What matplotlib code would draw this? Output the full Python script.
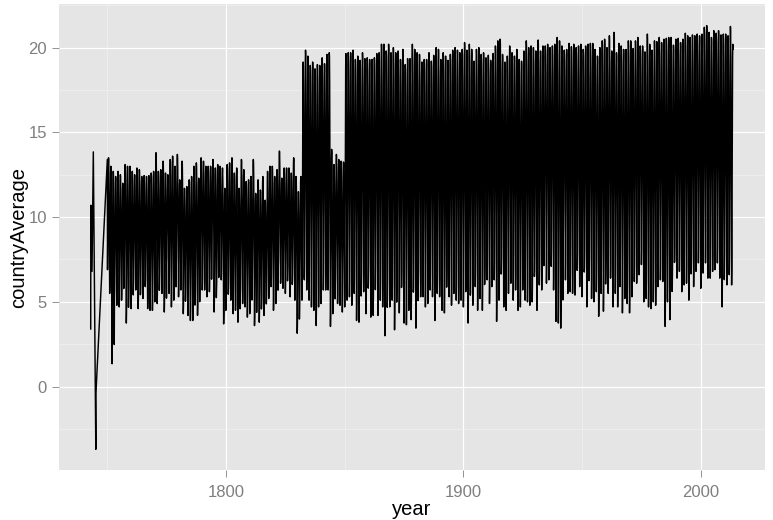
import matplotlib
matplotlib.use("Agg")
import matplotlib.pyplot as plt
import numpy as np

# first scattered readings before the regular record starts
early_year = [1743.0, 1743.05, 1743.55, 1744.1, 1745.15, 1745.2, 1750.0]
early_value = [3.4, 10.7, 6.8, 13.85, -3.7, -0.4, 13.4]

# regular monthly record: 1750 (from Feb) to 2013 (to Aug)
first_year = 1750
last_year = 2013
start_month = 1
end_month = 7

# summer peak of each year, 1750..2013
summer_high = [
    13.5, 13.0, 12.7, 12.4, 12.7, 12.5, 12.0, 13.1, 13.0, 13.0,
    12.7, 12.5, 12.9, 12.8, 12.4, 12.45, 12.4, 12.45, 12.6, 12.7,
    13.8, 12.7, 12.8, 13.3, 12.6, 12.5, 13.4, 13.6, 13.0, 13.7,
    12.2, 13.3, 11.7, 11.8, 12.2, 12.4, 13.0, 13.2, 12.3, 13.5,
    13.3, 13.0, 13.0, 13.0, 13.4, 12.9, 13.1, 13.0, 12.9, 11.7,
    13.1, 13.2, 13.5, 12.6, 12.9, 11.7, 13.4, 12.8, 12.1, 12.2,
    12.4, 13.4, 11.4, 12.2, 11.6, 12.4, 11.0, 12.7, 13.0, 13.0,
    12.4, 12.8, 13.9, 12.3, 12.9, 12.9, 12.9, 12.6, 13.5, 12.4,
    11.5, 12.4, 19.15, 19.85, 19.5, 18.95, 19.15, 18.75, 19.0, 18.95,
    19.4, 19.05, 19.6, 19.7, 14.0, 13.1, 13.7, 13.4, 13.3, 13.25,
    19.65, 19.7, 19.7, 19.85, 19.3, 19.5, 19.25, 19.7, 19.35, 19.4,
    19.3, 19.3, 19.4, 19.65, 19.7, 20.2, 20.2, 19.8, 20.2, 19.7,
    20.0, 19.7, 19.8, 19.3, 19.9, 19.0, 19.35, 19.35, 20.2, 19.9,
    19.7, 19.6, 19.15, 19.3, 19.3, 19.7, 19.2, 19.55, 20.0, 19.9,
    19.3, 19.7, 19.5, 19.25, 19.6, 19.85, 20.0, 19.85, 19.7, 19.9,
    20.3, 19.85, 20.2, 19.9, 19.2, 19.9, 20.0, 19.6, 19.7, 19.4,
    19.55, 19.25, 19.65, 20.1, 20.4, 20.5, 19.6, 19.15, 19.5, 20.1,
    19.7, 19.5, 19.9, 19.3, 19.2, 19.8, 20.4, 20.0, 20.1, 20.0,
    19.8, 20.45, 19.8, 20.1, 20.1, 20.2, 20.0, 20.1, 20.2, 20.6,
    20.4, 20.1, 19.85, 19.9, 20.25, 20.05, 20.2, 20.0, 20.1, 20.2,
    19.9, 20.1, 20.2, 20.25, 20.25, 19.9, 19.5, 20.0, 20.4, 20.5,
    20.0, 20.7, 19.8, 20.9, 19.7, 20.25, 20.1, 19.9, 19.9, 20.4,
    20.4, 19.95, 20.4, 20.6, 20.1, 20.1, 19.75, 20.8, 20.2, 19.85,
    20.4, 20.35, 20.6, 20.3, 20.5, 20.55, 20.6, 20.6, 20.15, 20.5,
    20.55, 20.3, 20.5, 20.85, 20.7, 20.6, 20.75, 20.7, 20.8, 20.7,
    20.8, 21.2, 21.3, 20.9, 20.6, 21.0, 20.85, 21.0, 20.75, 20.8,
    20.8, 20.7, 21.25, 20.2,
]

# winter minimum of each year, 1750..2013
winter_low = [
    6.4, 5.5, 1.35, 5.1, 4.8, 4.7, 5.1, 5.9, 3.75, 5.5,
    4.6, 5.9, 5.7, 4.6, 5.5, 5.2, 5.9, 4.6, 4.5, 4.5,
    5.0, 4.9, 6.3, 5.5, 4.4, 7.2, 5.5, 4.7, 5.1, 7.0,
    5.3, 5.7, 4.3, 5.5, 4.2, 3.9, 3.9, 5.1, 4.2, 6.0,
    5.7, 5.7, 5.3, 5.6, 7.3, 4.4, 5.7, 6.5, 6.3, 3.7,
    4.6, 5.5, 5.1, 4.3, 4.5, 3.8, 5.3, 4.9, 4.7, 4.1,
    4.3, 5.9, 3.6, 5.3, 3.8, 4.9, 4.2, 4.9, 5.2, 5.9,
    4.5, 4.9, 7.0, 6.1, 5.8, 5.5, 6.7, 5.3, 6.2, 5.1,
    3.15, 4.7, 5.1, 6.3, 5.7, 5.1, 4.7, 4.5, 3.6, 4.7,
    4.9, 5.7, 5.7, 5.7, 3.55, 4.3, 5.9, 4.9, 4.8, 4.4,
    4.7, 5.1, 5.3, 4.8, 5.5, 3.9, 3.8, 5.7, 5.6, 4.3,
    6.3, 4.1, 4.2, 6.4, 4.2, 5.1, 4.7, 3.0, 5.2, 4.7,
    5.1, 3.35, 6.1, 4.35, 5.9, 3.75, 3.65, 4.5, 3.95, 5.8,
    3.45, 5.9, 5.3, 5.3, 4.7, 4.9, 5.7, 5.3, 3.9, 5.5,
    5.3, 4.5, 4.35, 5.9, 5.3, 4.8, 5.5, 5.1, 4.9, 5.1,
    4.7, 5.6, 3.75, 5.5, 4.8, 5.9, 4.5, 5.2, 4.5, 6.1,
    6.3, 4.9, 5.9, 6.3, 3.85, 5.1, 6.7, 4.7, 4.5, 5.5,
    6.1, 5.1, 5.7, 4.5, 4.7, 5.7, 5.1, 5.0, 4.8, 5.0,
    6.8, 4.5, 6.0, 5.7, 7.4, 6.1, 6.3, 7.1, 5.7, 3.85,
    3.75, 3.45, 6.7, 6.3, 5.5, 5.6, 5.5, 5.4, 7.0, 5.9,
    5.3, 7.0, 4.7, 6.6, 5.2, 5.0, 5.6, 4.15, 5.5, 4.45,
    6.6, 5.5, 6.4, 4.7, 5.5, 4.7, 5.9, 4.35, 5.2, 4.9,
    4.35, 5.3, 6.2, 6.1, 6.6, 7.2, 5.0, 5.2, 4.7, 4.6,
    5.0, 4.8, 5.9, 6.3, 6.2, 3.55, 5.0, 3.95, 5.9, 7.4,
    6.4, 6.8, 5.6, 6.0, 6.1, 5.1, 6.8, 5.9, 6.8, 7.3,
    5.8, 6.7, 7.3, 6.4, 6.4, 6.8, 6.9, 7.3, 6.4, 4.7,
    7.0, 6.0, 6.6, 6.0,
]

# shape of the year between the winter minimum (0) and the summer peak (1), Jan..Dec
month_shape = [0.0, 0.07, 0.3, 0.57, 0.8, 0.95, 1.0, 0.98, 0.87, 0.64, 0.35, 0.1]

n_years = last_year - first_year + 1
assert len(summer_high) == n_years, len(summer_high)
assert len(winter_low) == n_years, len(winter_low)

# build the x (fractional year) and y lists of the line
line_x = list(early_year)
line_y = list(early_value)
for i in range(n_years):
    yr = first_year + i
    for m in range(12):
        if yr == first_year and m < start_month:
            continue
        if yr == last_year and m > end_month:
            break
        line_x.append(yr + m / 12)
        line_y.append(winter_low[i] + (summer_high[i] - winter_low[i]) * month_shape[m])

plt.rcParams["font.family"] = ["Liberation Sans", "DejaVu Sans"]

fig = plt.figure(figsize=(7.73, 5.2), dpi=100)
# panel placed like the ggplot one (pixels 58.6..765 by 4.4..470.5)
ax = fig.add_axes([0.0758, 0.0952, 0.914, 0.8963])

# ggplot-like grey panel
ax.set_facecolor("#E5E5E5")
for s in ax.spines.values():
    s.set_visible(False)

ax.plot(line_x, line_y, color="black", lw=1.05, solid_joinstyle="round")
ax.margins(x=0.05, y=0.05)

# breaks and grid
ax.set_xticks([1800, 1900, 2000])
ax.set_xticks([1750, 1850, 1950], minor=True)
ax.set_yticks([0, 5, 10, 15, 20])
ax.set_yticks([-2.5, 2.5, 7.5, 12.5, 17.5, 22.5], minor=True)
ax.grid(which="major", color="white", lw=0.85)
ax.grid(which="minor", color="#F2F2F2", lw=0.45)
ax.set_axisbelow(True)

ax.tick_params(which="major", length=5.2, width=0.6, color="#7F7F7F",
               labelcolor="#7F7F7F", labelsize=12, pad=3.2)
ax.tick_params(axis="x", which="major", pad=5.6)
ax.tick_params(which="minor", length=0)

ax.set_xlabel("year", fontsize=14.5, labelpad=0)
ax.set_ylabel("countryAverage", fontsize=14.5, labelpad=0)

fig.savefig("out.png", dpi=100)
